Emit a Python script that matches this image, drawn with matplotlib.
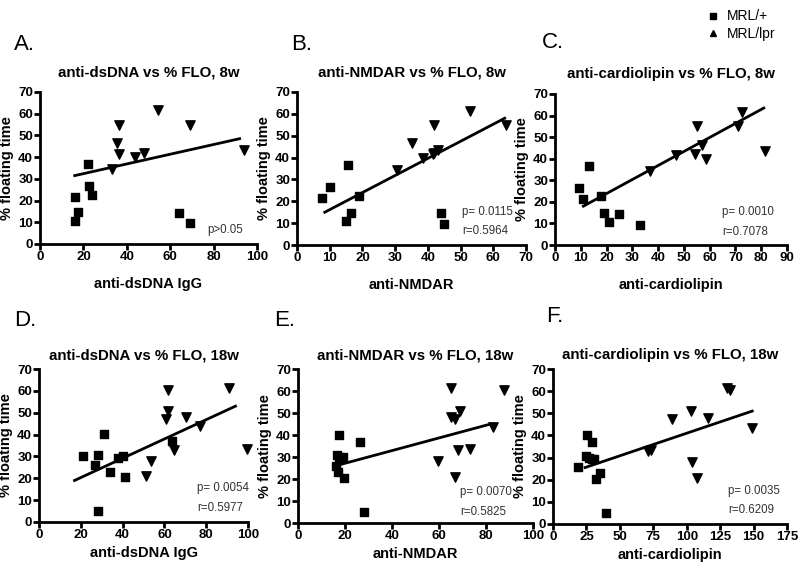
import matplotlib
matplotlib.use('Agg')
import matplotlib.pyplot as plt
from matplotlib.lines import Line2D

plt.rcParams['font.family'] = ['Liberation Sans', 'DejaVu Sans']

# panel A: anti-dsDNA, 8w
a_sq_x = [16, 16, 17.5, 22, 22.5, 24, 64, 69]
a_sq_y = [21.5, 10.8, 14.8, 36.8, 26.5, 22.5, 14.5, 9.5]
a_tr_x = [33, 35.5, 36.5, 36.5, 44, 48, 54.5, 69, 94]
a_tr_y = [34.5, 46.5, 55, 41.5, 40, 42, 61.5, 55, 43.5]
a_fit_x = [16, 92]
a_fit_y = [31.5, 48.5]

# panel B: anti-NMDAR, 8w
b_sq_x = [7.5, 10, 15.5, 15, 16.5, 19, 44, 45]
b_sq_y = [21.5, 26.5, 36.8, 10.8, 14.8, 22.5, 14.5, 9.5]
b_tr_x = [30.5, 35, 38.5, 41.5, 42, 43, 42, 53, 64]
b_tr_y = [34.5, 46.5, 40, 41.5, 42, 43.5, 55, 61.5, 55]
b_fit_x = [8.5, 63.5]
b_fit_y = [15, 58]

# panel C: anti-cardiolipin, 8w
c_sq_x = [9.5, 11, 13, 18, 19, 21, 25, 33]
c_sq_y = [26.5, 21.5, 36.8, 22.5, 14.8, 10.8, 14.5, 9.5]
c_tr_x = [37, 47, 55, 54.5, 57, 58.5, 71, 72.5, 81.5]
c_tr_y = [34.5, 41.5, 55, 42, 46.5, 40, 55, 61.5, 43.5]
c_fit_x = [11, 81]
c_fit_y = [18, 63.5]

# panel D: anti-dsDNA, 18w
d_sq_x = [21, 27, 28, 28, 31, 34, 38, 40, 41, 63.5]
d_sq_y = [30.3, 26, 30.8, 5, 40.3, 23, 29.5, 30, 20.5, 37]
d_tr_x = [51, 53.5, 61.5, 61.5, 61, 64.5, 70.5, 77, 91, 99.5]
d_tr_y = [21, 28, 60.5, 51, 47.2, 33, 48, 44, 61.5, 33.5]
d_fit_x = [17, 94]
d_fit_y = [19, 53]

# panel E: anti-NMDAR, 18w
e_sq_x = [16, 16.5, 17, 17.5, 17.5, 18.5, 19, 19.5, 26.5, 28]
e_sq_y = [25.8, 30.8, 23, 40.2, 30, 29.5, 30.2, 20.5, 37, 5]
e_tr_x = [59.5, 65, 65, 67, 67, 68, 69, 73, 83, 87.5]
e_tr_y = [28, 61.5, 48, 47.2, 21, 33, 51, 33.5, 43.5, 60.5]
e_fit_x = [16, 82]
e_fit_y = [26, 45]

# panel F: anti-cardiolipin, 18w
f_sq_x = [19, 25, 25.5, 27, 29, 29, 31, 32, 35.5, 40]
f_sq_y = [25.8, 30.8, 40.2, 30, 29.5, 37, 29.5, 20.5, 23, 5]
f_tr_x = [71, 73, 89, 103, 104, 107.5, 116, 130, 132, 149]
f_tr_y = [33, 33.5, 47.2, 51, 28, 21, 48, 61.5, 60.5, 43.5]
f_fit_x = [24, 149]
f_fit_y = [25.5, 51]

letters = ['A.', 'B.', 'C.', 'D.', 'E.', 'F.']
titles = ['anti-dsDNA vs % FLO, 8w', 'anti-NMDAR vs % FLO, 8w', 'anti-cardiolipin vs % FLO, 8w',
          'anti-dsDNA vs % FLO, 18w', 'anti-NMDAR vs % FLO, 18w', 'anti-cardiolipin vs % FLO, 18w']
xlabels = ['anti-dsDNA IgG', 'anti-NMDAR', 'anti-cardiolipin',
           'anti-dsDNA IgG', 'anti-NMDAR', 'anti-cardiolipin']
stats = [['p>0.05'], ['p= 0.0115', 'r=0.5964'], ['p= 0.0010', 'r=0.7078'],
         ['p= 0.0054', 'r=0.5977'], ['p= 0.0070', 'r=0.5825'], ['p= 0.0035', 'r=0.6209']]
xmax = [100, 70, 90, 100, 100, 175]
xstep = [20, 10, 10, 20, 20, 25]

panels = [
    (a_sq_x, a_sq_y, a_tr_x, a_tr_y, a_fit_x, a_fit_y),
    (b_sq_x, b_sq_y, b_tr_x, b_tr_y, b_fit_x, b_fit_y),
    (c_sq_x, c_sq_y, c_tr_x, c_tr_y, c_fit_x, c_fit_y),
    (d_sq_x, d_sq_y, d_tr_x, d_tr_y, d_fit_x, d_fit_y),
    (e_sq_x, e_sq_y, e_tr_x, e_tr_y, e_fit_x, e_fit_y),
    (f_sq_x, f_sq_y, f_tr_x, f_tr_y, f_fit_x, f_fit_y),
]

W, H = 800, 572
fig = plt.figure(figsize=(8, 5.72), dpi=100)

# layout in pixels: axes (left, right, top, bottom), letter (x, y), stats (x frac, y fracs)
boxes = [(40, 257, 92, 244), (297, 526, 92, 245), (555, 787, 94, 245),
         (39, 248, 369, 522), (298, 533, 369, 523), (553, 787, 369, 524)]
letter_pos = [(14, 45), (291, 45), (542, 42), (14, 320), (274, 320), (546, 317)]
stat_pos = [(0.77, [0.09]), (0.72, [0.215, 0.09]), (0.72, [0.22, 0.086]),
            (0.755, [0.22, 0.09]), (0.69, [0.20, 0.07]), (0.75, [0.21, 0.09])]

for i, (sx, sy, tx, ty, fx, fy) in enumerate(panels):
    l, r, t, b = boxes[i]
    ax = fig.add_axes([l / W, 1 - b / H, (r - l) / W, (b - t) / H])
    ax.scatter(sx, sy, marker='s', s=40, color='k', zorder=3, clip_on=False)
    ax.scatter(tx, ty, marker='v', s=45, color='k', zorder=3, clip_on=False)
    ax.plot(fx, fy, color='k', lw=2.0, zorder=2)
    ax.set_xlim(0, xmax[i])
    ax.set_ylim(0, 70)
    ax.set_xticks(range(0, xmax[i] + 1, xstep[i]))
    ax.set_yticks(range(0, 71, 10))
    for s in ['top', 'right']:
        ax.spines[s].set_visible(False)
    for s in ['left', 'bottom']:
        ax.spines[s].set_linewidth(2)
    ax.tick_params(width=2, length=4, labelsize=9.5, pad=1)
    for lab in ax.get_xticklabels() + ax.get_yticklabels():
        lab.set_fontweight('bold')
    top_row = i < 3
    ax.set_ylabel('% floating time', fontsize=10.5, fontweight='bold', labelpad=3)
    ax.set_xlabel(xlabels[i], fontsize=10.5, fontweight='bold', labelpad=10 if top_row else 4)
    ax.set_title(titles[i], fontsize=10.8, fontweight='bold', pad=11.5 if top_row else 7)
    sxf, syf = stat_pos[i]
    for txt, yf in zip(stats[i], syf):
        ax.text(sxf, yf, txt, transform=ax.transAxes, fontsize=8.3, color='#333333',
                ha='left', va='center')
    lx, ly = letter_pos[i]
    fig.text(lx / W, 1 - ly / H, letters[i], fontsize=16, va='center')

# legend
handles = [Line2D([], [], marker='s', color='k', ls='none', markersize=5),
           Line2D([], [], marker='^', color='k', ls='none', markersize=5)]
fig.legend(handles, ['MRL/+', 'MRL/lpr'], loc='upper left', bbox_to_anchor=(694 / W, 1 + 3 / H),
           frameon=False, fontsize=10, handletextpad=0.5, labelspacing=0.25, handlelength=1)

fig.savefig('out.png', dpi=100)
